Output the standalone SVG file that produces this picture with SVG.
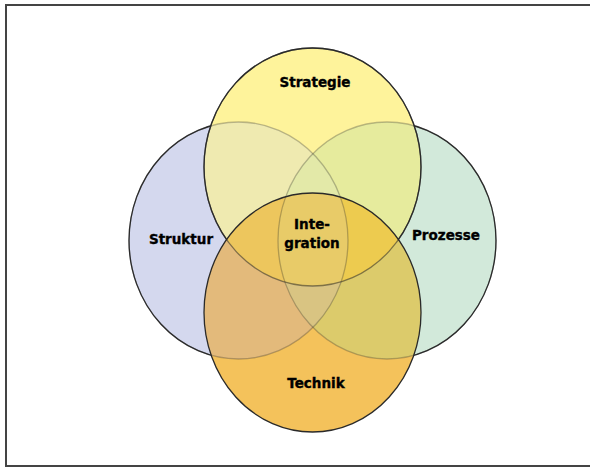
<svg xmlns="http://www.w3.org/2000/svg" width="590" height="468" viewBox="0 0 590 468">
  <style>
    .ln { fill: none; stroke: #2a2a2a; stroke-width: 1.3; }
    .lbl { font-family: "DejaVu Sans", Verdana, sans-serif; font-weight: bold; font-size: 13.5px; fill: #000; stroke: #000; stroke-width: 0.35; text-anchor: middle; }
  </style>
  <defs>
    <ellipse id="eB" cx="238.5" cy="240.5" rx="109.5" ry="118.5"/>
    <ellipse id="eG" cx="387" cy="240.5" rx="109" ry="118.5"/>
    <ellipse id="eY" cx="312.5" cy="167" rx="108.5" ry="119"/>
    <ellipse id="eO" cx="312.5" cy="312.5" rx="108.5" ry="119.5"/>
    <clipPath id="cB"><use href="#eB"/></clipPath>
    <clipPath id="cG"><use href="#eG"/></clipPath>
    <clipPath id="cY"><use href="#eY"/></clipPath>
    <clipPath id="cO"><use href="#eO"/></clipPath>
    <mask id="mOutYO" maskUnits="userSpaceOnUse" x="0" y="0" width="590" height="468">
      <rect width="590" height="468" fill="#fff"/>
      <use href="#eY" fill="#000"/>
      <use href="#eO" fill="#000"/>
    </mask>
    <mask id="mOutO" maskUnits="userSpaceOnUse" x="0" y="0" width="590" height="468">
      <rect width="590" height="468" fill="#fff"/>
      <use href="#eO" fill="#000"/>
    </mask>
  </defs>
  <rect x="0" y="0" width="590" height="468" fill="#ffffff"/>
  <path d="M590,5 H6 V466 H590" fill="none" stroke="#444" stroke-width="2"/>

  <g id="struktur">
    <use href="#eB" fill="#d4d8ee"/>
  </g>
  <g id="prozesse">
    <use href="#eG" fill="#d2e9da"/>
  </g>
  <g id="strategie">
    <use href="#eY" fill="#fef39b"/>
    <g clip-path="url(#cY)">
      <use href="#eB" fill="#efeab0"/>
      <use href="#eG" fill="#e6eb9d"/>
      <g clip-path="url(#cB)"><use href="#eG" fill="#e3e9a8"/></g>
    </g>
  </g>
  <g id="technik">
    <use href="#eO" fill="#f4c25b"/>
    <g clip-path="url(#cO)">
      <use href="#eB" fill="#e3ba7b"/>
      <use href="#eG" fill="#dccb6b"/>
      <g clip-path="url(#cB)"><use href="#eG" fill="#d9c482"/></g>
      <g clip-path="url(#cY)">
        <use href="#eB" fill="#edc65d"/>
        <use href="#eG" fill="#edcb4f"/>
        <g clip-path="url(#cB)"><use href="#eG" fill="#e8cb68"/></g>
      </g>
    </g>
  </g>

  <g id="outlines">
    <use href="#eB" class="ln" stroke-opacity="0.3"/>
    <use href="#eG" class="ln" stroke-opacity="0.3"/>
    <use href="#eB" class="ln" mask="url(#mOutYO)"/>
    <use href="#eG" class="ln" mask="url(#mOutYO)"/>
    <use href="#eY" class="ln" stroke-opacity="0.55"/>
    <use href="#eY" class="ln" mask="url(#mOutO)"/>
    <use href="#eO" class="ln"/>
  </g>

  <g id="labels">
    <text class="lbl" x="181" y="244">Struktur</text>
    <text class="lbl" x="446" y="240">Prozesse</text>
    <text class="lbl" x="315" y="87">Strategie</text>
    <text class="lbl" x="316" y="388">Technik</text>
  </g>
  <g id="integration">
    <text class="lbl" x="312" y="229">Inte-</text>
    <text class="lbl" x="312" y="248">gration</text>
  </g>
  <g id="connectors"></g>
</svg>
